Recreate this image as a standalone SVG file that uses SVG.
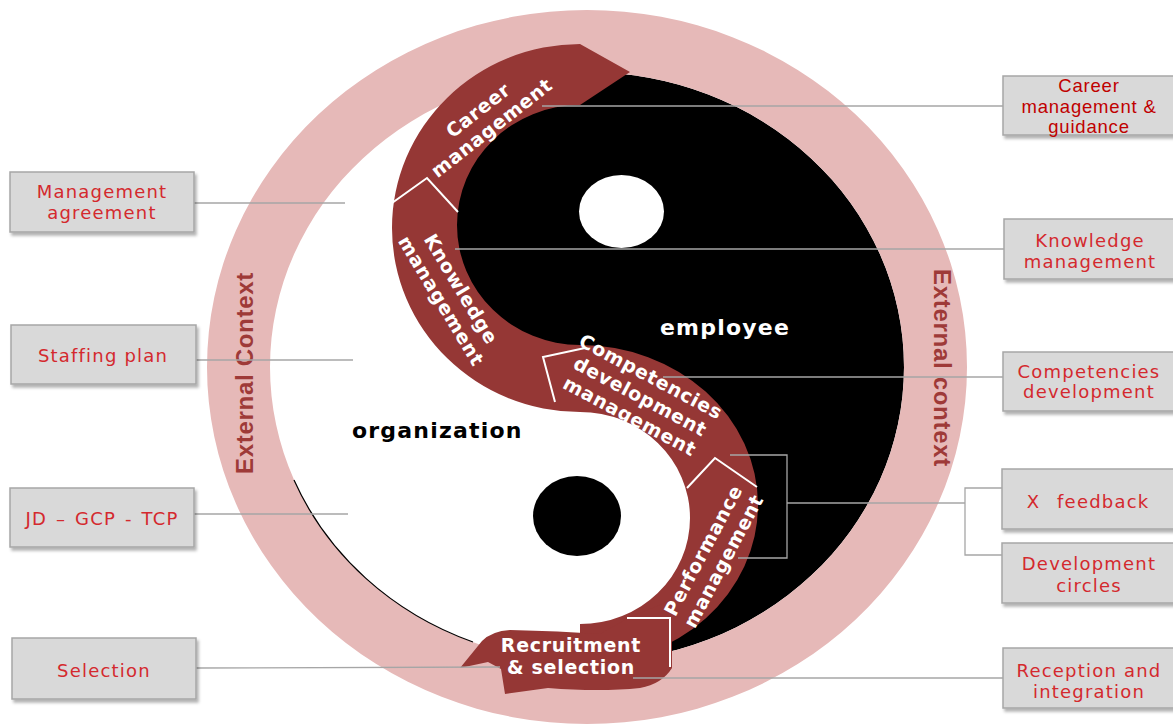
<svg xmlns="http://www.w3.org/2000/svg" width="1173" height="724" viewBox="0 0 1173 724">
<defs>
<style>
.box{fill:#D9D9D9;stroke:#A6A6A6;stroke-width:1.5;filter:url(#sh)}
.bt{font-family:"DejaVu Sans",sans-serif;font-size:18px;letter-spacing:1.2px;fill:#D4292E;text-anchor:middle}
.bt2{font-family:"Liberation Sans",Arial,sans-serif;font-size:18.5px;letter-spacing:0.8px;fill:#C00000;text-anchor:middle}
.conn{stroke:#A6A6A6;stroke-width:1.3;fill:none}
.bl{font-family:"DejaVu Sans",sans-serif;font-weight:bold;font-size:19px;letter-spacing:0.7px;fill:#fff;text-anchor:middle}
.div{stroke:#fff;stroke-width:2;fill:none}
.ext{font-family:"Liberation Sans",Arial,sans-serif;font-weight:bold;font-size:24px;letter-spacing:0.7px;fill:#9E3A38;text-anchor:middle}
.big{font-family:"DejaVu Sans",sans-serif;font-weight:bold;font-size:22px;letter-spacing:1.2px}
</style>
<filter id="sh" x="-10%" y="-10%" width="130%" height="140%"><feDropShadow dx="2" dy="3" stdDeviation="1.5" flood-color="#000" flood-opacity="0.3"/></filter>
<clipPath id="yy"><ellipse cx="587" cy="367" rx="317" ry="295"/></clipPath>
</defs>
<rect width="1173" height="724" fill="#fff"/>
<g id="yinyang">
<ellipse cx="587" cy="367" rx="317" ry="295" fill="#fff"/>
<path clip-path="url(#yy)" fill="#000" d="M 580,40 L 1000,40 L 1000,720 L 580,720 L 580,655 A 145,140 0 0 0 725,515 A 145,140 0 0 0 580,375 A 155,150 0 0 1 425,225 A 155,150 0 0 1 580,75 Z"/>
</g>
<g id="ring">
<path fill="#E6B9B8" fill-rule="evenodd" d="M 207,367 A 380,357 0 1 0 967,367 A 380,357 0 1 0 207,367 Z M 270,367 A 317,295 0 1 0 904,367 A 317,295 0 1 0 270,367 Z"/>
<path d="M 294,480 A 317,295 0 0 0 473,642" fill="none" stroke="#000" stroke-width="1.2"/>
<text class="ext" transform="translate(245,373) rotate(-90)" y="8">External Context</text>
<text class="ext" transform="translate(942,368) rotate(90)" y="8">External context</text>
</g>
<g id="band">
<path fill="#953735" d="M 580,44 L 630,72 L 580,105 A 123,120 0 0 0 457,225 A 123,120 0 0 0 580,345 A 178,160 0 0 1 758,505 A 178,160 0 0 1 580,665 L 580,624 A 110,106 0 0 0 690,518 A 110,106 0 0 0 580,412 A 188,184 0 0 1 392,228 A 188,184 0 0 1 580,44 Z"/>
<path fill="#953735" d="M 460,668 L 482,641 Q 492,631 510,630 Q 560,631 600,634 L 630,617 L 672,600 L 672,668 Q 662,684 640,688 Q 600,692 548,688 L 505,694 L 501,669 L 488,662 Z"/>
<polyline class="div" points="392,203 427,178 458,212"/>
<polyline class="div" points="555,402 543,357 585,348"/>
<polyline class="div" points="687,488 715,458 757,487"/>
<polyline class="div" points="627,618 670,618 670,667"/>
</g>
<g id="eyes">
<ellipse cx="621.5" cy="211.5" rx="42.5" ry="36.5" fill="#fff"/>
<ellipse cx="577" cy="516" rx="44" ry="40" fill="#000"/>
</g>
<g id="connectors">
<line class="conn" x1="194" y1="203" x2="345" y2="203"/>
<line class="conn" x1="196" y1="360" x2="353" y2="360"/>
<line class="conn" x1="194" y1="514" x2="348" y2="514"/>
<line class="conn" x1="196" y1="668" x2="500" y2="667"/>
<line class="conn" x1="1003" y1="106" x2="542" y2="106"/>
<line class="conn" x1="1004" y1="249" x2="455" y2="249"/>
<line class="conn" x1="1003" y1="377" x2="663" y2="377"/>
<polyline class="conn" points="730,455 787,455 787,558 738,558"/>
<line class="conn" x1="787" y1="503" x2="965" y2="503"/>
<polyline class="conn" points="1002,488 965,488 965,555 1002,555"/>
<line class="conn" x1="1003" y1="678" x2="633" y2="678"/>
</g>
<g id="band-labels">
<g id="lbl-career" transform="translate(484,118) rotate(-38)"><text class="bl" y="-3">Career</text><text class="bl" y="19">management</text></g>
<g id="lbl-knowledge" transform="translate(451,295) rotate(59)"><text class="bl" y="-5">Knowledge</text><text class="bl" y="18">management</text></g>
<g id="lbl-competencies" transform="translate(640,397) rotate(28)"><text class="bl" y="-16.5">Competencies</text><text class="bl" y="6">development</text><text class="bl" y="28.5">management</text></g>
<g id="lbl-performance" transform="translate(714,556) rotate(-62)"><text class="bl" y="-5.5">Performance</text><text class="bl" y="17.5">management</text></g>
<g id="lbl-recruitment"><text class="bl" x="571" y="652">Recruitment</text><text class="bl" x="571" y="674">&amp; selection</text></g>
</g>
<g id="center-labels">
<text class="big" x="660" y="335" fill="#fff">employee</text>
<text class="big" x="352" y="438" fill="#000">organization</text>
</g>
<g id="node-management-agreement"><rect class="box" x="10" y="172" width="184" height="60"/><text class="bt" x="102" y="198">Management</text><text class="bt" x="102" y="219">agreement</text></g>
<g id="node-staffing-plan"><rect class="box" x="11" y="325" width="185" height="59"/><text class="bt" x="103" y="362">Staffing plan</text></g>
<g id="node-jd"><rect class="box" x="10" y="488" width="184" height="59"/><text class="bt" x="102" y="525" word-spacing="2">JD – GCP - TCP</text></g>
<g id="node-selection"><rect class="box" x="12" y="638" width="184" height="61"/><text class="bt" x="104" y="677">Selection</text></g>
<g id="node-career"><rect class="box" x="1003" y="76" width="175" height="59"/><text class="bt2" x="1089" y="92">Career</text><text class="bt2" x="1089" y="113">management &amp;</text><text class="bt2" x="1089" y="133">guidance</text></g>
<g id="node-knowledge"><rect class="box" x="1004" y="219" width="174" height="60"/><text class="bt" x="1090" y="247">Knowledge</text><text class="bt" x="1090" y="268">management</text></g>
<g id="node-competencies"><rect class="box" x="1003" y="352" width="175" height="59"/><text class="bt" x="1089" y="378">Competencies</text><text class="bt" x="1089" y="398">development</text></g>
<g id="node-feedback"><rect class="box" x="1002" y="469" width="176" height="60"/><text class="bt" x="1088" y="508" word-spacing="10">X feedback</text></g>
<g id="node-circles"><rect class="box" x="1002" y="543" width="176" height="60"/><text class="bt" x="1089" y="570">Development</text><text class="bt" x="1089" y="592">circles</text></g>
<g id="node-reception"><rect class="box" x="1003" y="648" width="175" height="60"/><text class="bt" x="1089" y="677">Reception and</text><text class="bt" x="1089" y="698">integration</text></g>
</svg>
